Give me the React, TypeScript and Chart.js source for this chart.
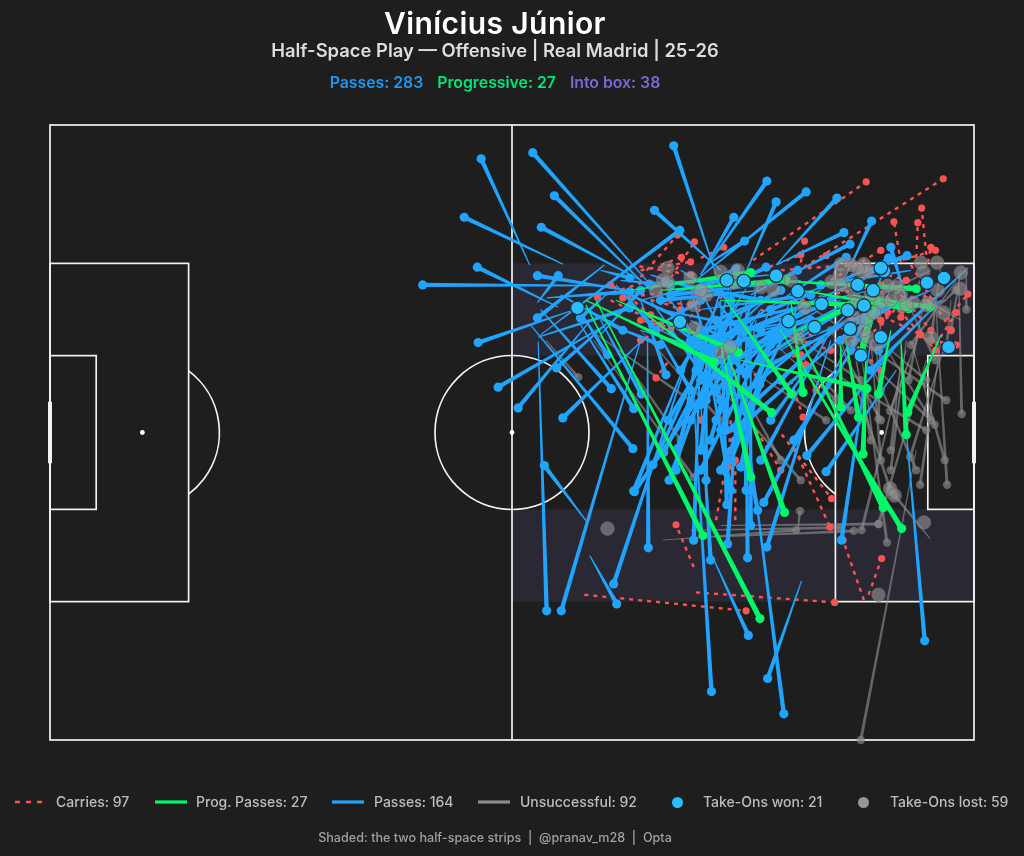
import React, { useEffect, useRef } from "react";
import { Chart, registerables } from "chart.js";

Chart.register(...registerables);

// All rows are in pitch yards (120 x 80, y grows towards the bottom touchline).
// [fromX, fromY, toX, toY]; the marker sits on the "to" end.
const passes: number[][] = [
  [62.3,18.2,56,4.4],[66.6,18.1,53.8,12],[66,23.7,55.5,18.5],[72.4,20.9,48.4,20.8],[67.6,24.2,55.6,28.3],
  [78,20.8,62.7,3.6],[78,21.5,65.5,9.2],[76.7,20.2,63.8,13.3],[87.1,18.9,78.5,11.1],[86.5,19.5,81,2.7],
  [63.7,27.3,81.8,13.7],[72,18.2,63.3,25.1],[63.3,23.1,66,19.6],[76.7,21.8,63.3,19.6],[64.5,22.5,75.3,21.7],
  [71.5,18.9,75.3,19.9],[63.4,27.6,75.3,23.8],[72.2,22.1,68.9,25.1],[74.1,21.5,81.8,25.1],[72.2,26,58.2,34.1],
  [70.2,25.4,60.8,36.8],[76.7,28.2,66.6,38.1],[62.4,26,75.7,42.1],[63.7,24,72.9,34.3],[72.8,25.4,65.8,31.6],
  [68.3,23.4,72.4,29.9],[69.7,51.6,64.2,44.3],[63.4,28.2,64.5,63.2],[76.7,28,66.4,63.2],[77.6,28,77.7,55],
  [83.2,29.3,73.2,59.7],[70.1,56,73.6,62.3],[84.5,35.8,85.8,56.6],[86.1,56.3,90.7,66.4],[83.6,35.8,85.9,73.7],
  [90.4,38.4,95.3,76.6],[97.6,59.3,93.2,72],[90.4,35.8,90.6,56.3],[89.8,28,88,54.5],[101.4,28,93.1,54.9],
  [84.5,28,83.6,54],[106.6,28,102.8,54],[111.2,39.7,113.6,67.1],[109.2,21.5,96.6,41],[110.5,28,98.3,43],
  [109.9,31.9,100.8,45.1],[104,28,92.7,49.1],[87.1,22.8,87.9,49.4],[93.6,26.7,89.7,44.5],[84.5,25.4,88.4,47.5],
  [90.4,22.8,90.4,47.5],[97.5,22.8,90.4,37.3],[105.3,25.4,90.4,38.6],[96.2,22.8,88.8,39.4],[87.1,25.4,91.9,50.1],
  [91,25.4,91,52.1],[90.4,26.7,75.9,47.7],[68.9,26,75.8,36.9],[71.5,25.4,76.8,35],[87.1,25.4,78.3,44.2],
  [88.4,25.4,79.7,42.6],[85.8,28,81.5,42.1],[89.7,22.8,80.3,38.4],[83.2,29.3,75.8,47.6],[84.5,19.5,93.1,7.3],
  [83.9,20.2,98.2,8.7],[90.4,19.1,94.3,10],[84.5,19.5,88.8,12],[85.2,18.2,90.2,15.1],[94.3,18.2,102.2,9.5],
  [103.4,19.5,106.7,12.5],[94.3,18.2,103.1,14],[96.2,19.5,103.9,15.5],[111.2,22.8,109.2,15.9],[104,21.5,108.9,17.3],
  [97.5,22.1,111.3,17],[84.5,22.8,93,18.5],[83.2,21.5,89.1,18.7],[91,22.1,97.1,18.9],[94.9,22.8,103.4,17.2],
  [119.2,18.6,107.6,29.3],[94.9,22.8,87.1,28],[102.7,22.8,88.4,27.3],[104,20.8,90.4,26.7],[107.9,22.8,87.8,28.6],
  [100.1,24,91.7,28.6],[106.6,21.5,84.5,26.7],[97.5,25.4,83.2,28],[92.3,21.5,79.3,22.8],[97.5,20.2,80.6,22.1],
  [93.6,19.5,78,20.8],[92.3,22.8,86.5,25.4],[78,26.7,84.5,22.8],[76.7,22.8,87.1,20.2],[79.3,20.2,92.3,22.8],
  [83.2,28,94.9,21.5],[84.5,24,98.8,22.1],[91,28,101.4,22.8],[94.9,29.3,104,23.4],[92.3,26.7,98.8,25.4],
  [87.1,31.9,96.2,26.7],[78,22.8,87.1,35.8],[81.9,22.8,84.5,33.2],[88.4,21.5,88.4,34.5],[92.3,24,85.2,35.8],
  [96.2,25.4,86.5,34.5],[84.5,21.5,89.7,31.9],[78,25.4,83.2,34.5],[87.1,22.8,81.9,31.9],[93.6,26.7,87.1,39.7],
  [89.7,26.7,85.8,41],[92.3,29.3,84.5,44.9],[101.4,26.7,92.3,43.6],[100.1,29.3,93.6,38.4],[104,24,94.9,33.2],
  [110.5,22.8,102.7,28],[114.4,21.5,105.3,25.4],[111.8,18.9,100.1,20.8],[115.7,22.8,106.6,31.9],[108.6,18.2,104,29.3],
  [76.7,22.8,80,32.5],[73.5,20.8,78.7,26.7],[66.3,22.1,74.4,26.7],[71.5,27.3,76.7,21.5],[72.8,26,79.3,28.6],
  [79.3,24,92.3,26.7],[97.5,28,107.9,24],
  [104,22.8,93.6,28.6],[102.1,24,92.3,30.6],[106.6,24,93.6,31.2],[99.5,22.8,89,30.6],[97.5,23.4,90.4,32.5],
  [93.6,22.1,85.8,29.3],[90.4,21.3,84.5,30.6],[87.1,21.5,83.9,31.9],[92.3,20.2,87.8,31.9],[83.2,21.5,86.5,32.5],
  [80.6,22.8,87.8,33.8],[94.9,25.4,91.7,33.8],[98.8,28,89.7,35.1],[102.7,26,91.7,35.8],[86.5,22.8,91,28.6],
  [83.2,25.4,89,28.6],[79.3,26.7,87.1,30.6],[76.7,26.7,85,29.3],[80,25.4,84.5,28.6],[88.4,20.2,84.5,36.4],
  [90.4,23.4,83.2,38.4],[93.6,24,86.5,38.4],[88.4,25.4,87.8,39.7],[91.7,25.4,89,41],[86.5,25.4,84.5,42.3],
  [84.5,26.7,81.3,44.9],[89,22.8,80.4,46.2],[85.2,26.7,85.2,46.2],[96.9,24,87.1,44.9],[94.9,28,88.4,43.6],
  [78,19.5,84.5,21.5],[81.9,18.9,88.4,22.8],[74.1,20.2,80.6,20.8],[100.1,21.5,93.6,24],
];

const progPasses: number[][] = [
  [69.6,23.4,84.8,53.4],[70.9,22.8,92.2,64.2],[69.6,22.8,86.2,30.8],[73.5,22.8,89.4,29.6],[76.7,24,93.7,37.4],
  [87.8,22.8,96.3,35],[96.2,22.8,97.8,34.8],[87.1,28.6,91,45.8],[87.8,29.3,95.4,50.4],[102.7,28.6,102.7,36.7],
  [103.4,28,105,38],[89.7,30.6,106.1,34.3],[109.2,26.7,107.6,35],[115.7,27.3,111.4,37.4],[110.5,28,111.2,40.3],
  [106,29.3,105.6,42.8],[96.9,26.7,108.2,49.8],[94.9,26.7,110.6,52.5],[93.6,20.2,112.5,21.3],[97.5,21.5,111.5,23.9],
  [104,22.1,114.3,23.7],[75.4,21.5,91,19.2],[79.3,21.5,95.6,20.2],[87.1,22.8,105.3,23.4],[96.5,27.1,103.1,24],
  [105.6,30,107.3,22.8],[106.6,22.8,105.3,29.9],
];

const failedPasses: number[][] = [
  [118,18.9,118.4,37.6],[115,22.8,116.5,46.8],[115.7,28,113,46.8],[111.8,28,116.2,43.6],[116.4,28,111.7,43.2],
  [107.9,28,114.9,39],[113.8,21.5,111.5,33.2],[113.1,26.7,109.1,37.2],[107.9,22.8,107.6,38.2],[111.2,29.3,105.4,52.7],
  [105.3,29.3,108.7,54.3],[113.8,30.6,107.6,51.9],[112.5,42.3,105.3,80],[87.1,52.1,107.6,51.9],[86.2,53.6,104.4,52.8],
  [83.2,52.7,102.7,52.4],[79.6,54,96.9,52.7],[97.1,53,97.4,50.2],[114.3,53.8,109.7,48.2],[102.7,28,109.1,47.3],
  [70.6,28,83.6,45.8],[70.2,26.7,83.5,36.1],[64.4,28,68.6,32.8],[84.5,28,87.8,37],[97.5,29.6,113.8,39.7],
  [118.3,18.9,117,26.7],[115.7,18.2,114.4,28],[97.5,22.8,116.4,35.8],[104,28.6,114.4,38.4],[105.3,28,112.5,44.9],
  [111.2,28,109.2,44.9],[101.4,26.7,107.9,38.4],[96.2,28.6,104,37.1],[93.6,28,102.1,35.8],[91,31.9,100.8,38.4],
  [114.4,18.9,107.9,22.1],[116.4,22.8,110.5,24],[118.3,25.4,113.8,22.8],[117.7,20.2,111.8,28.6],[107.3,22.8,101.4,26.7],
  [107.3,29.3,107.9,34.5],[117,22.8,116.4,29.3],[111.2,22.8,115,30.6],[109.2,29.3,113.8,33.2],[106.6,28,107.9,43.6],
  [110.5,30.6,109.2,42.3],[104,26.7,106.6,41],[84.5,31.2,97.5,46.2],[88.4,31.9,94.9,43.6],[72.8,28,81.9,41],
  [76.7,26.7,87.1,38.4],[97.5,28,105.3,33.2],[115,24,117.6,21.5],[119,18.9,119,24],[110.5,19.5,106.6,22.8],
];

const carries: number[][] = [
  [91.3,17.6,106,7.4],[97.9,18.5,116,7],[113.8,16.9,113.2,10.8],[110.5,17.9,109.6,12.6],[112.5,17.3,112.7,12.7],
  [114,17.9,114.4,15.9],[97.5,17.9,98,15.1],[84.5,17.3,87.5,15.9],[98.4,18.5,100.8,17],[76.7,19.8,81.5,14.3],
  [80,20.8,83.7,15.2],[79.3,18.2,82,17.2],[78,20.2,71.1,22.4],[81.9,21.5,74.4,22.5],[88.4,22.8,83.9,21.7],
  [69.4,61.1,90.4,63.2],[83.9,60.8,101.9,62.1],[106.3,61.1,108,56.4],[105.7,61.8,103,54],[83.6,57.5,81.3,52],
  [93.6,38.4,101.5,48.6],[80.2,30.9,78.7,32.9],[86.5,51.4,88.1,42.5],[88.4,38.4,88.1,44.5],[96.2,41,101.3,52.3],
  [96.2,26.7,98.2,31.2],[96.2,33.2,97.8,38],[116.4,25.4,119.2,22],[115,28.6,117.7,24.4],[113.1,20.2,110.5,25],
  [106.6,29.3,108.8,24.4],[105.3,28.6,110.9,22.8],[100.1,28,104,25.4],[93.6,26.7,101.4,29.3],[92.3,24,100.1,28],
  [97.5,22.8,107.9,20.8],[104,19.5,115,16.3],[111.8,18.2,117,26.7],[107.9,21.5,115,29.3],[88.4,31.9,97.5,29.9],
  [81.9,25.4,76.7,28],[72.8,22.8,79.3,26],[75.4,18.2,83.2,19.5],[78,22.8,83.2,23.4],[84.5,27.3,76.7,25.4],
  [92.3,18.9,97.5,16.9],[94.9,18.9,104,18.2],[101.4,20.2,107.9,16.3],[89.7,29.3,92.3,33.8],[87.1,32.5,84.5,38.4],
  [91.7,39.7,94.9,44.9],[89,51.4,89,43.6],
  [76.7,18.9,83.2,17.8],[78.7,22.8,81.9,24],[76.7,22.8,72.8,20.8],[74.1,21.5,78,24.7],[84.5,24,80.6,26.7],
  [106.6,18.9,111.2,20.2],[110.5,20.2,114.4,22.8],[109.2,25.4,113.1,27.3],[114.4,28,117.7,28.6],[110.5,22.1,114.4,26.7],
  [102.7,21.3,107.9,25.4],[104,28,107.9,31.9],[97.5,30.6,99.5,34.5],
];

const takeOnsWon: number[][] = [
  [94.3,19.6],[97.1,21.6],[100.2,23.3],[95.9,25.5],[99.3,26.3],[103.6,24.1],[104.9,20.8],
  [106.9,21.5],[105.7,23.5],[103.9,26.5],[107.9,27.6],[105.3,30],[108.3,19],[113.9,20.5],
  [116.1,19.9],[116.7,28.9],[87.9,20.2],[90.1,20.3],[68.5,23.8],[81.8,25.6],[107.9,18.6],
];

const takeOnsLost: number[][] = [
  [94,21.5],[98,23.8],[97.2,27.7],[102.7,18.1],[102.6,19.4],[101.5,20.4],[104,21.2],[105.7,18.1],[105.6,19.1],
  [106.3,19],[108.8,20.9],[109.9,21.1],[107.9,23.1],[113.1,17.9],[115.2,17.9],[113.4,19.1],[118.2,21.3],[112.1,23.1],
  [111.2,23.4],[115.3,21.5],[116,24.4],[114.4,27.6],[106.2,27.6],[105.7,26.7],[104.5,25.1],[106,25.2],[107,24.4],
  [104,28],[118.3,19.2],[80.2,18.6],[79.6,20.2],[80.2,20.4],[83.6,23.4],[83.7,26.4],[85.2,22.1],[96.2,20.2],
  [88.8,20.5],[87.2,29.6],[88.3,28.9],[113.5,51.7],[107.6,61.1],[72.4,52.5],[109.1,47.3],[109.7,48.2],[87.1,19.1],
  [89.3,18.9],[84.5,21.5],[83.2,19.9],[104.7,22.8],[106.6,22.1],[110.5,22.1],[109.2,22.8],[113.8,23.4],[104,18.2],
  [102.7,20.8],[92.3,21.1],[104.9,18.6],[107.3,28.6],[78.7,21.5],
];

// Pitch furniture, in the same yards
const pitchRects: number[][] = [[0,0,120,80],[0,18,18,62],[0,30,6,50],[102,18,120,62],[114,30,120,50]];
const halfSpaceStrips: number[][] = [[60,18,120,30],[60,50,120,62]];
const halfwayLine: number[] = [60,0,60,80];
const goalBars: number[][] = [[0,36,0,44],[120,36,120,44]];
const pitchSpots: number[][] = [[12,40],[60,40],[108,40]];
const pitchArcs: number[][] = [[60,40,10,0,360],[12,40,10,-53.13,53.13],[108,40,10,126.87,233.13]];

const titleText = "Vinícius Júnior";
const subtitleText = "Half-Space Play — Offensive | Real Madrid | 25-26";
const footerText = "Shaded: the two half-space strips  |  @pranav_m28  |  Opta";
const statLabels = ["Passes: 283", "Progressive: 27", "Into box: 38"];
const legendLabels = ["Carries: 97", "Prog. Passes: 27", "Passes: 164", "Unsuccessful: 92", "Take-Ons won: 21", "Take-Ons lost: 59"];

const BG = "#1e1e1e";
const FONT = "Inter, 'Noto Sans', sans-serif";

const pitchPlugin = {
  id: "pitch",
  beforeDatasetsDraw(chart: any) {
    const { ctx, scales } = chart;
    const X = (v: number) => scales.x.getPixelForValue(v);
    const Y = (v: number) => scales.y.getPixelForValue(v);
    ctx.save();
    ctx.fillStyle = "#2a2833";
    halfSpaceStrips.forEach(([a, b, c, d]) => ctx.fillRect(X(a), Y(b), X(c) - X(a), Y(d) - Y(b)));
    ctx.strokeStyle = "#f2f2f2";
    ctx.fillStyle = "#ffffff";
    ctx.lineWidth = 1.7;
    pitchRects.forEach(([a, b, c, d]) => ctx.strokeRect(X(a), Y(b), X(c) - X(a), Y(d) - Y(b)));
    ctx.beginPath();
    ctx.moveTo(X(halfwayLine[0]), Y(halfwayLine[1]));
    ctx.lineTo(X(halfwayLine[2]), Y(halfwayLine[3]));
    ctx.stroke();
    const unit = X(1) - X(0);
    pitchArcs.forEach(([cx, cy, r, s, e]) => {
      ctx.beginPath();
      ctx.arc(X(cx), Y(cy), r * unit, (s * Math.PI) / 180, (e * Math.PI) / 180);
      ctx.stroke();
    });
    pitchSpots.forEach(([a, b]) => {
      ctx.beginPath();
      ctx.arc(X(a), Y(b), 2.4, 0, Math.PI * 2);
      ctx.fill();
    });
    ctx.lineWidth = 4;
    goalBars.forEach(([a, b, c, d]) => {
      ctx.beginPath();
      ctx.moveTo(X(a), Y(b));
      ctx.lineTo(X(c), Y(d));
      ctx.stroke();
    });
    ctx.restore();
  },
  // Comet lines: thin at the origin, thick at the marker end
  beforeDatasetDraw(chart: any, args: any) {
    const ds = chart.data.datasets[args.index];
    if (!ds.taper) return;
    const { ctx, scales } = chart;
    ctx.save();
    ctx.fillStyle = ds.taper.color;
    ds.data.forEach((p: any) => {
      const x0 = scales.x.getPixelForValue(p.sx);
      const y0 = scales.y.getPixelForValue(p.sy);
      const x1 = scales.x.getPixelForValue(p.x);
      const y1 = scales.y.getPixelForValue(p.y);
      const len = Math.hypot(x1 - x0, y1 - y0) || 1;
      const nx = -(y1 - y0) / len;
      const ny = (x1 - x0) / len;
      const a = ds.taper.from / 2;
      const b = ds.taper.to / 2;
      ctx.beginPath();
      ctx.moveTo(x0 + nx * a, y0 + ny * a);
      ctx.lineTo(x1 + nx * b, y1 + ny * b);
      ctx.lineTo(x1 - nx * b, y1 - ny * b);
      ctx.lineTo(x0 - nx * a, y0 - ny * a);
      ctx.closePath();
      ctx.fill();
    });
    ctx.restore();
  },
};

const comet = (rows: number[][]) => rows.map(([sx, sy, x, y]) => ({ x, y, sx, sy }));
const brokenSegments = (rows: number[][]) =>
  rows.flatMap(([sx, sy, x, y]) => [{ x: sx, y: sy }, { x, y }, { x, y: null }]);
const dots = (rows: number[][]) => rows.map(([x, y]) => ({ x, y }));

const Swatch = ({ left, color, dashed }: { left: number; color: string; dashed?: boolean }) => (
  <svg style={{ position: "absolute", left, top: 800, width: 32, height: 4 }} width={32} height={4}>
    <line x1={0} y1={2} x2={32} y2={2} stroke={color} strokeWidth={dashed ? 2.6 : 3.2} strokeDasharray={dashed ? "5 6" : undefined} />
  </svg>
);

const Dot = ({ cx, color }: { cx: number; color: string }) => (
  <div style={{ position: "absolute", left: cx - 5.5, top: 797, width: 11, height: 11, borderRadius: "50%", background: color }} />
);

const Label = ({ left, children, color = "#bdbdbd" }: any) => (
  <div style={{ position: "absolute", left, top: 794, lineHeight: "16px", fontSize: 14, fontWeight: 500, color, whiteSpace: "nowrap", fontFamily: FONT }}>
    {children}
  </div>
);

const Centered = ({ top, size, weight, color, spacing = 0, children }: any) => (
  <div style={{ position: "absolute", left: 0, width: 990, top, textAlign: "center", fontSize: size, fontWeight: weight, color, whiteSpace: "pre", fontFamily: FONT, lineHeight: `${size + 4}px`, letterSpacing: spacing }}>
    {children}
  </div>
);

export default function App() {
  const ref = useRef<HTMLCanvasElement>(null);
  useEffect(() => {
    const chart = new Chart(ref.current as HTMLCanvasElement, {
      type: "scatter",
      data: {
        datasets: [
          {
            label: "Unsuccessful",
            data: comet(failedPasses),
            taper: { color: "rgba(150,150,150,0.6)", from: 1, to: 3 },
            pointRadius: 4.2, pointBackgroundColor: "rgba(130,130,130,0.7)", pointBorderWidth: 0,
            order: 6, clip: false,
          },
          {
            type: "line",
            label: "Carries",
            data: brokenSegments(carries),
            borderColor: "#ff5252", borderWidth: 2.4, borderDash: [4, 5],
            backgroundColor: "#ff5252", fill: false, spanGaps: false, tension: 0,
            pointRadius: (c: any) => (c.dataIndex % 3 === 1 ? 3.6 : 0),
            pointBackgroundColor: "#ff5252", pointBorderWidth: 0,
            order: 5, clip: false,
          },
          {
            label: "Passes",
            data: comet(passes),
            taper: { color: "#20a4ff", from: 1.2, to: 4.4 },
            pointRadius: 4.6, pointBackgroundColor: "#20a4ff", pointBorderWidth: 0,
            order: 4, clip: false,
          },
          {
            label: "Prog. Passes",
            data: comet(progPasses),
            taper: { color: "#00f76a", from: 1.2, to: 5.4 },
            pointRadius: 4.6, pointBackgroundColor: "#00f76a", pointBorderWidth: 0,
            order: 3, clip: false,
          },
          {
            label: "Take-Ons lost",
            data: dots(takeOnsLost),
            pointRadius: 6.8, pointBackgroundColor: "rgba(150,150,150,0.6)", pointBorderColor: "rgba(110,110,110,0.7)", pointBorderWidth: 1,
            order: 2, clip: false,
          },
          {
            label: "Take-Ons won",
            data: dots(takeOnsWon),
            pointRadius: 6.8, pointBackgroundColor: "#2bbcff", pointBorderColor: "#16323f", pointBorderWidth: 1.2,
            order: 1, clip: false,
          },
        ] as any,
      },
      options: {
        animation: false,
        responsive: false,
        events: [],
        layout: { padding: { left: 50, right: 50, top: 125, bottom: 116 } },
        plugins: { legend: { display: false }, title: { display: false }, tooltip: { enabled: false } },
        scales: {
          x: { type: "linear", min: 0, max: 120, display: false },
          y: { type: "linear", min: 0, max: 80, reverse: true, display: false },
        },
      },
      plugins: [pitchPlugin],
    } as any);
    return () => chart.destroy();
  }, []);

  return (
    <div style={{ position: "absolute", left: 0, top: 0, width: 1024, height: 856, background: BG, overflow: "hidden" }}>
      <canvas ref={ref} width={1024} height={856} style={{ position: "absolute", left: 0, top: 0, width: 1024, height: 856 }} />
      <Centered top={6} size={30} weight={600} color="#ffffff" spacing={0.4}>{titleText}</Centered>
      <Centered top={39} size={18.4} weight={600} color="#dddddd">{subtitleText}</Centered>
      <Centered top={73} size={15.8} weight={600} color="#2196f3">
        <span style={{ color: "#2196f3" }}>{statLabels[0]}</span>
        <span style={{ color: "#00e676", marginLeft: 14 }}>{statLabels[1]}</span>
        <span style={{ color: "#7b68d8", marginLeft: 14 }}>{statLabels[2]}</span>
      </Centered>
      <Swatch left={15} color="#ff5252" dashed />
      <Label left={56}>{legendLabels[0]}</Label>
      <Swatch left={155} color="#00f76a" />
      <Label left={196}>{legendLabels[1]}</Label>
      <Swatch left={332} color="#20a4ff" />
      <Label left={374}>{legendLabels[2]}</Label>
      <Swatch left={478} color="#8c8c8c" />
      <Label left={520}>{legendLabels[3]}</Label>
      <Dot cx={677} color="#2bbcff" />
      <Label left={703}>{legendLabels[4]}</Label>
      <Dot cx={863} color="#969696" />
      <Label left={890}>{legendLabels[5]}</Label>
      <Centered top={830} size={12.6} weight={500} color="#a0a0a0">{footerText}</Centered>
    </div>
  );
}
